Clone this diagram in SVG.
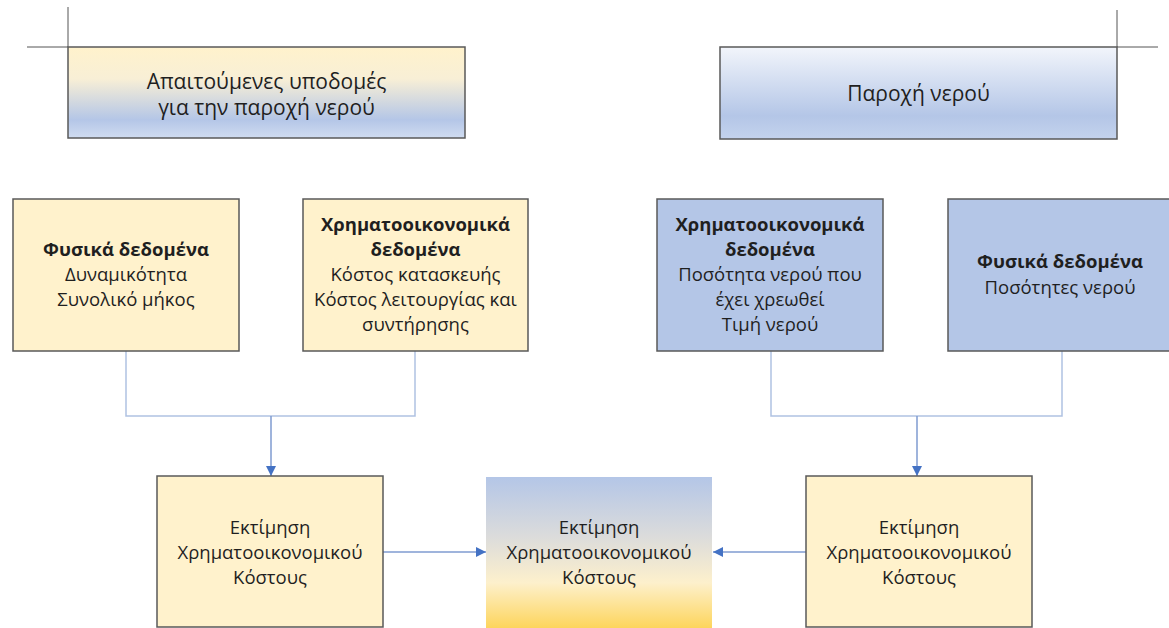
<svg xmlns="http://www.w3.org/2000/svg" width="1169" height="628" viewBox="0 0 1169 628">
<style>
  text { font-family: "Open Sans", "Noto Sans", "DejaVu Sans", sans-serif; fill: #1f1f1f; text-anchor: middle; }
  .t { font-size: 18.5px; }
  .h { font-size: 21px; }
  .b { font-weight: bold; }
  .box { stroke: #595959; stroke-width: 1.5; }
  .yel { fill: #fff2cc; }
  .blu { fill: #b4c6e7; }
  .deco { stroke: #555; stroke-width: 1; fill: none; }
  .br { stroke: #b0c2e2; stroke-width: 1.5; fill: none; }
  .ar { stroke: #7f9bd0; stroke-width: 1.5; fill: none; marker-end: url(#ah); }
</style>
<defs>
  <linearGradient id="gTL" x1="0" y1="0" x2="0" y2="1">
    <stop offset="0" stop-color="#fff2cc"/>
    <stop offset="0.35" stop-color="#f8efd6"/>
    <stop offset="0.8" stop-color="#b4c6e7"/>
    <stop offset="1" stop-color="#d0dcf0"/>
  </linearGradient>
  <linearGradient id="gTR" x1="0" y1="0" x2="0" y2="1">
    <stop offset="0" stop-color="#f2f5fb"/>
    <stop offset="0.75" stop-color="#b4c6e7"/>
    <stop offset="1" stop-color="#c4d3ed"/>
  </linearGradient>
  <linearGradient id="gC" x1="0" y1="0" x2="0" y2="1">
    <stop offset="0" stop-color="#b4c6e7"/>
    <stop offset="0.4" stop-color="#dcdcdb"/>
    <stop offset="0.7" stop-color="#fdf0cc"/>
    <stop offset="1" stop-color="#fdd55c"/>
  </linearGradient>
  <marker id="ah" viewBox="0 0 10 10" refX="10" refY="5" markerWidth="10" markerHeight="10" markerUnits="userSpaceOnUse" orient="auto">
    <path d="M0,0 L10,5 L0,10 z" fill="#4472c4"/>
  </marker>
</defs>

<g id="decor">
  <path class="deco" d="M68,7 V47 M27,47 H68"/>
  <path class="deco" d="M1117,10 V47 M1117,47 H1158"/>
</g>

<g id="connectors">
  <path class="br" d="M126,351 V416 H415 V351"/>
  <path class="ar" d="M271,416 V476"/>
  <path class="br" d="M771,351 V416 H1062 V351"/>
  <path class="ar" d="M917,416 V476"/>
  <path class="ar" d="M383,552 H486"/>
  <path class="ar" d="M806,552 H713"/>
</g>

<g id="top-left">
  <rect class="box" x="68" y="47" width="397" height="91" fill="url(#gTL)"/>
  <text class="h" x="266.5" y="89">Απαιτούμενες υποδομές</text>
  <text class="h" x="266.5" y="115">για την παροχή νερού</text>
</g>

<g id="top-right">
  <rect class="box" x="720" y="47" width="397" height="92" fill="url(#gTR)"/>
  <text class="h" x="918.5" y="101">Παροχή νερού</text>
</g>

<g id="phys-left">
  <rect class="box yel" x="13" y="199" width="226" height="152"/>
  <text class="t b" x="126" y="256">Φυσικά δεδομένα</text>
  <text class="t" x="126" y="281">Δυναμικότητα</text>
  <text class="t" x="126" y="306">Συνολικό μήκος</text>
</g>

<g id="fin-left">
  <rect class="box yel" x="303" y="199" width="225" height="152"/>
  <text class="t b" x="415.5" y="231">Χρηματοοικονομικά</text>
  <text class="t b" x="415.5" y="256">δεδομένα</text>
  <text class="t" x="415.5" y="281">Κόστος κατασκευής</text>
  <text class="t" x="415.5" y="306">Κόστος λειτουργίας και</text>
  <text class="t" x="415.5" y="331">συντήρησης</text>
</g>

<g id="fin-right">
  <rect class="box blu" x="657" y="199" width="226" height="152"/>
  <text class="t b" x="770" y="231">Χρηματοοικονομικά</text>
  <text class="t b" x="770" y="256">δεδομένα</text>
  <text class="t" x="770" y="281">Ποσότητα νερού που</text>
  <text class="t" x="770" y="306">έχει χρεωθεί</text>
  <text class="t" x="770" y="331">Τιμή νερού</text>
</g>

<g id="phys-right">
  <rect class="box blu" x="948" y="199" width="225" height="152"/>
  <text class="t b" x="1060" y="268">Φυσικά δεδομένα</text>
  <text class="t" x="1060" y="294">Ποσότητες νερού</text>
</g>

<g id="est-left">
  <rect class="box yel" x="157" y="476" width="226" height="151"/>
  <text class="t" x="270" y="534">Εκτίμηση</text>
  <text class="t" x="270" y="559">Χρηματοοικονομικού</text>
  <text class="t" x="270" y="584">Κόστους</text>
</g>

<g id="est-center">
  <rect x="486" y="477" width="226" height="151" fill="url(#gC)"/>
  <text class="t" x="599" y="534">Εκτίμηση</text>
  <text class="t" x="599" y="559">Χρηματοοικονομικού</text>
  <text class="t" x="599" y="584">Κόστους</text>
</g>

<g id="est-right">
  <rect class="box yel" x="806" y="476" width="226" height="151"/>
  <text class="t" x="919" y="534">Εκτίμηση</text>
  <text class="t" x="919" y="559">Χρηματοοικονομικού</text>
  <text class="t" x="919" y="584">Κόστους</text>
</g>
</svg>
